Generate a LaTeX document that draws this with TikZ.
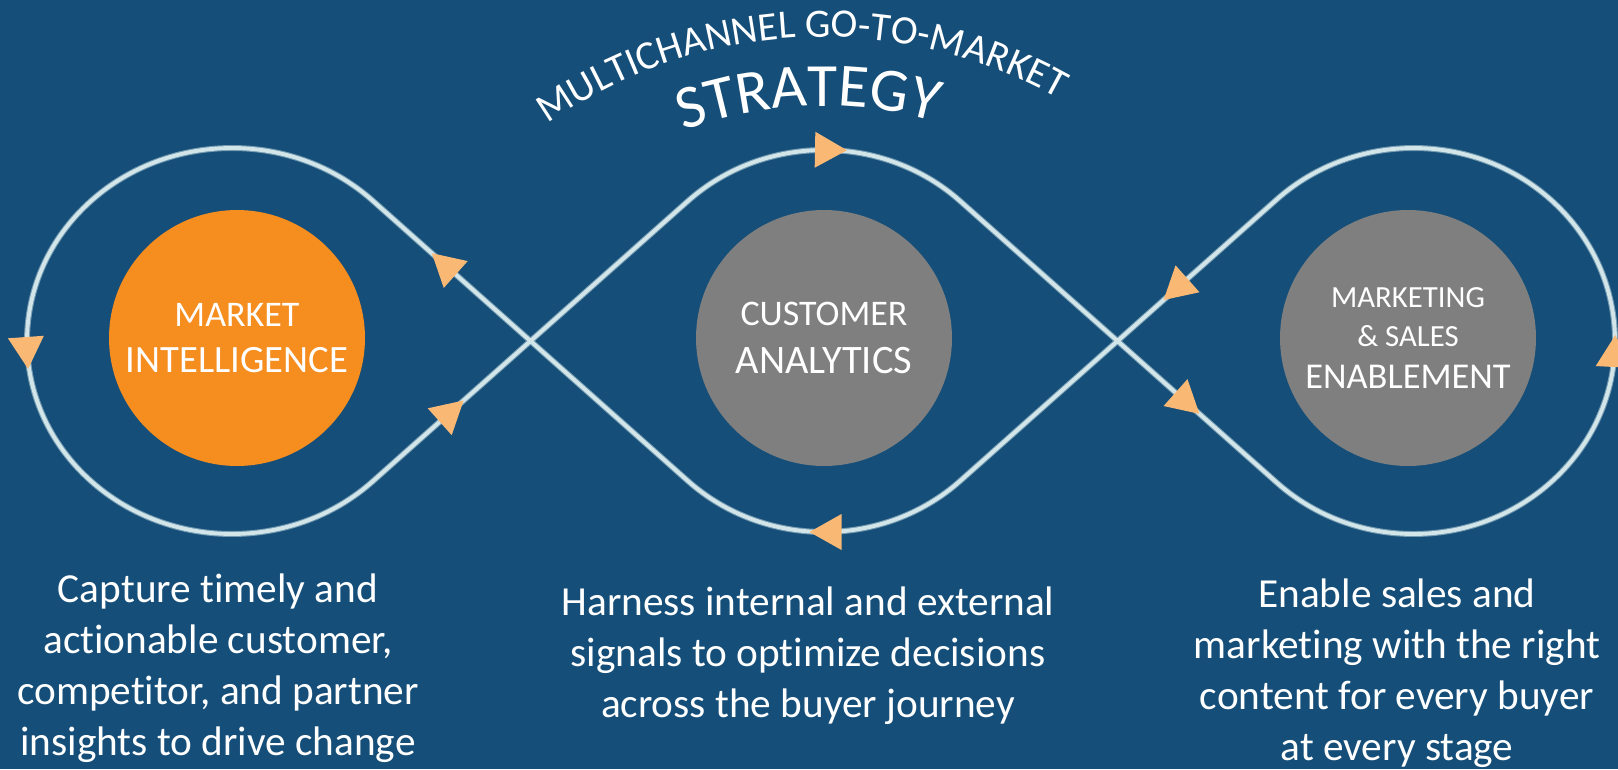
\documentclass[tikz,border=0pt]{standalone}
\usepackage{fontspec}
\setmainfont{Carlito}[Ligatures=NoCommon]
\usetikzlibrary{calc,decorations.text}

\definecolor{slate}{HTML}{154E78}
\definecolor{linewhite}{HTML}{D2E6EA}
\definecolor{tipfill}{HTML}{F9B874}
\definecolor{intelfill}{HTML}{F68D1F}
\definecolor{stagegray}{HTML}{7F7F7F}

\tikzset{
  stage/.style={circle, minimum size=5.12cm, inner sep=0pt, text=white, align=center},
  desc/.style={text=white, align=center, anchor=north, inner sep=0pt,
    font=\fontsize{23.5}{29}\selectfont},
  flowtip/.pic={\fill[tipfill] (16,0) -- (-16,18) -- (-16,-18) -- cycle;}
}

\begin{document}
\begin{tikzpicture}[x=0.02cm, y=0.02cm]
  \useasboundingbox (0,0) rectangle (1618,769);
  \fill[slate] (0,0) rectangle (1618,769);

  % crossings and the points where the straight runs leave the loops
  \coordinate (C1) at (530.5,428);
  \coordinate (C2) at (1117.5,428);
  \coordinate (Lup)  at ([shift={(232,428)}]46.6:205 and 193);
  \coordinate (Llow) at ([shift={(232,428)}]313.4:205 and 193);
  \coordinate (Mul)  at ([shift={(824,428)}]133:200 and 191);
  \coordinate (Mlr)  at ([shift={(824,428)}]313:200 and 191);
  \coordinate (Rul)  at ([shift={(1413.6,428)}]132.9:201.4 and 193);
  \coordinate (Rll)  at ([shift={(1413.6,428)}]227.1:201.4 and 193);

  \foreach \w/\c in {3.4pt/linewhite!50!slate, 2.2pt/linewhite}
    \draw[line width=\w, draw=\c, line join=round]
      (C1) -- (Mul) arc[start angle=133, end angle=47, x radius=200, y radius=191]
      -- (C2) -- (Rll) arc[start angle=227.1, end angle=492.9, x radius=201.4, y radius=193]
      -- (C2) -- (Mlr) arc[start angle=313, end angle=227, x radius=200, y radius=191]
      -- (C1) -- (Lup) arc[start angle=46.6, end angle=313.4, x radius=205, y radius=193]
      -- cycle;

  \node[stage, fill=intelfill, font=\fontsize{20.5}{26.4}\selectfont] (intel) at (237,431)
    {MARKET\\{\fontsize{22}{26.4}\selectfont INTELLIGENCE}};
  \node[stage, fill=stagegray, font=\fontsize{20.5}{27.4}\selectfont] (analytics) at (824,431)
    {CUSTOMER\\{\fontsize{23}{27.4}\selectfont ANALYTICS}};
  \node[stage, fill=stagegray, font=\fontsize{17.5}{22}\selectfont] (enable) at (1408,431)
    {MARKETING\\\& SALES\\[2.1pt]{\fontsize{20.7}{22}\selectfont ENABLEMENT}};

  % direction marks
  \pic[rotate=-1]    at (831,619) {flowtip};
  \pic[rotate=-41.6] at ($(C2)!.44!(Rll)$) {flowtip};
  \pic[rotate=87]    at (1614.5,418) {flowtip};
  \pic[rotate=221.6] at ($(Rul)!.635!(C2)$) {flowtip};
  \pic[rotate=180]   at (825.5,237) {flowtip};
  \pic[rotate=138.3] at ($(C1)!.55!(Lup)$) {flowtip};
  \pic[rotate=-86]   at (27,416) {flowtip};
  \pic[rotate=41.7]  at ($(Llow)!.5!(C1)$) {flowtip};

  % heading on two arcs
  \path[decorate, decoration={text along path, text align=center, text color=white,
      text={|\fontsize{23}{23}\selectfont|MULTICHANNEL GO-TO-MARKET}}]
    ([shift={(823,252)}]127.85:480) arc[start angle=127.85, end angle=57.85, radius=480];
  \path[decorate, decoration={text along path, text align=center, text color=white,
      text={|\fontsize{35}{35}\selectfont|STRATEGY}}]
    ([shift={(823,252)}]112:411) arc[start angle=112, end angle=72, radius=411];

  \node[desc] (intel-desc) at (218,195.4)
    {Capture timely and\\actionable customer,\\competitor, and partner\\insights to drive change};
  \node[desc] (analytics-desc) at (808,182.4)
    {Harness internal and external\\signals to optimize decisions\\across the buyer journey};
  \node[desc] (enable-desc) at (1397,190.4)
    {Enable sales and\\marketing with the right\\content for every buyer\\at every stage};
\end{tikzpicture}
\end{document}
